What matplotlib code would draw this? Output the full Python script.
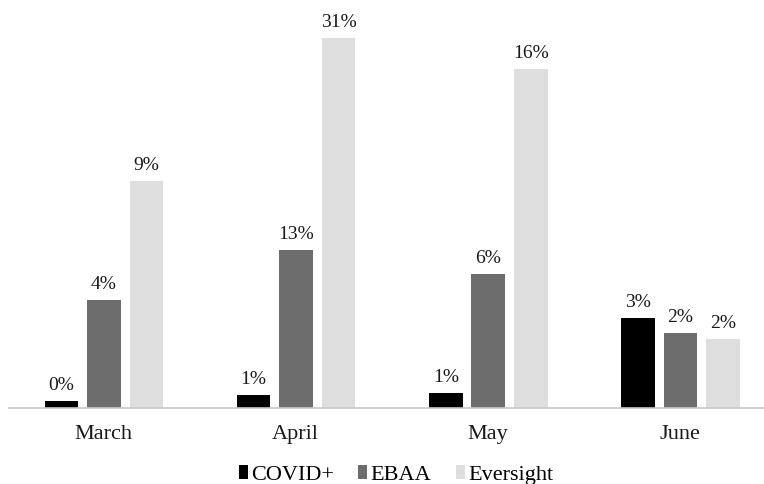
import matplotlib
matplotlib.use("Agg")
import matplotlib.pyplot as plt
import numpy as np
from matplotlib.patches import Patch

months = ["March", "April", "May", "June"]
series = ["COVID+", "EBAA", "Eversight"]
# bar heights as drawn (relative units)
covid_h = [7, 13, 15, 90]
ebaa_h = [108, 158, 134, 75]
eversight_h = [227, 370, 339, 69]
# value labels shown on the bars
covid_lbl = ["0%", "1%", "1%", "3%"]
ebaa_lbl = ["4%", "13%", "6%", "2%"]
eversight_lbl = ["9%", "31%", "16%", "2%"]

colors = ["#000000", "#6d6d6d", "#dedede"]

plt.rcParams['font.family'] = ['Liberation Serif', 'DejaVu Serif']

fig = plt.figure(figsize=(7.64, 4.84), dpi=100)
ax = fig.add_axes([9/764, 76/484, 1 - 9/764, 400/484])

x = np.arange(len(months))
offs = [-0.221, 0.0, 0.221]
w = 0.175
heights = [covid_h, ebaa_h, eversight_h]
labels = [covid_lbl, ebaa_lbl, eversight_lbl]
for i in range(3):
    bars = ax.bar(x + offs[i] + 0.005, heights[i], width=w, color=colors[i], label=series[i])
    for b, t in zip(bars, labels[i]):
        ax.text(b.get_x() + b.get_width() / 2, b.get_height() + 7, t,
                ha="center", va="bottom", fontsize=14, color="#1a1a1a")

ax.set_xlim(-0.489, 3.44)
ax.set_ylim(0, 400)
ax.set_xticks(x)
ax.set_xticklabels(months, fontsize=16, color="#1a1a1a")
ax.tick_params(axis="x", length=0, pad=12)
ax.set_yticks([])
for s in ["top", "right", "left"]:
    ax.spines[s].set_visible(False)
ax.spines["bottom"].set_color("#c8c8c8")
ax.spines["bottom"].set_linewidth(1.2)

handles = [Patch(facecolor=c, label=s) for c, s in zip(colors, series)]
fig.legend(handles=handles, loc="center", bbox_to_anchor=(396/764, 1 - 475/484),
           ncol=3, frameon=False, fontsize=16, handlelength=0.4, handleheight=0.55,
           handletextpad=0.15, columnspacing=1.1, borderpad=0)

fig.savefig("out.png", dpi=100)
